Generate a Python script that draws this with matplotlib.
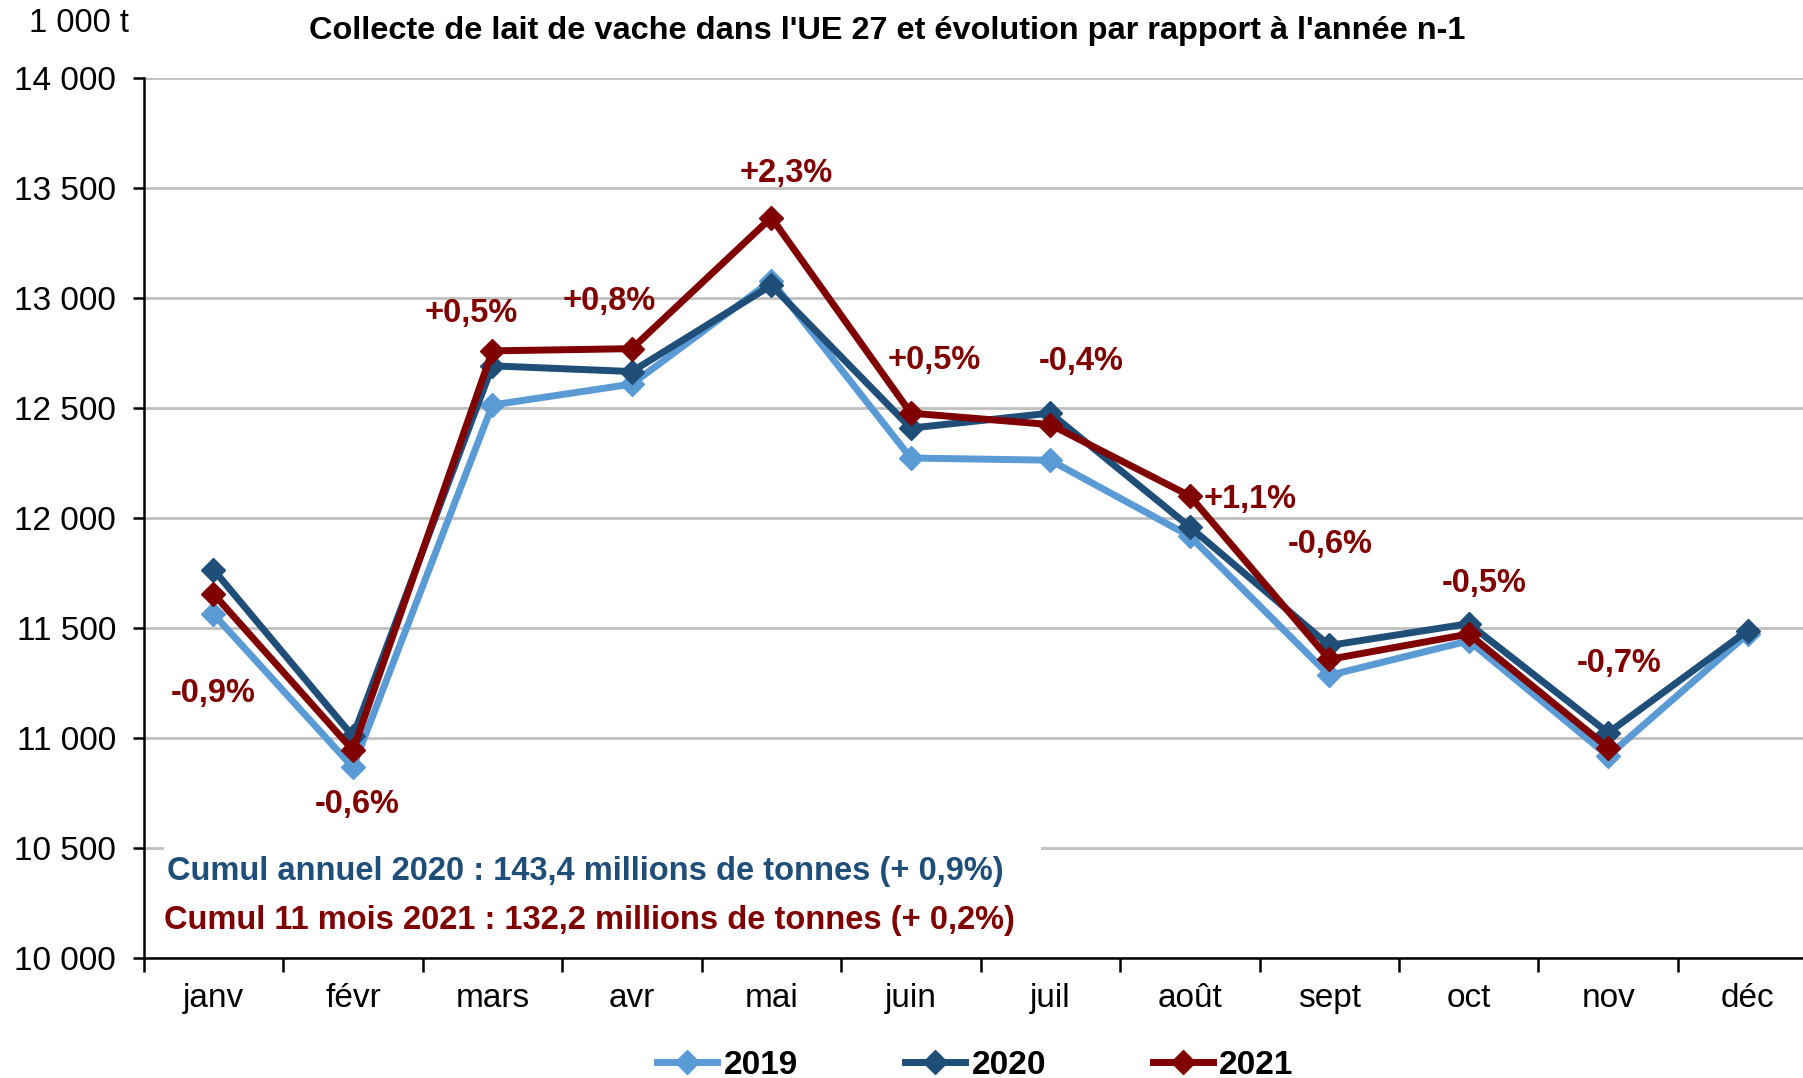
import numpy as np
import matplotlib
matplotlib.use("Agg")
import matplotlib.pyplot as plt
from matplotlib.lines import Line2D

plt.rcParams['font.family'] = ['Liberation Sans', 'DejaVu Sans']

# Data (1 000 t)
months = ['janv', 'févr', 'mars', 'avr', 'mai', 'juin', 'juil', 'août', 'sept', 'oct', 'nov', 'déc']
milk_2019 = [11565, 10868, 12515, 12610, 13080, 12274, 12264, 11919, 11286, 11443, 10920, 11474]
milk_2020 = [11767, 11009, 12693, 12667, 13059, 12410, 12478, 11961, 11422, 11521, 11025, 11490]
milk_2021 = [11657, 10946, 12761, 12771, 13367, 12478, 12426, 12102, 11359, 11474, 10957, np.nan]
evol_labels = ['-0,9%', '-0,6%', '+0,5%', '+0,8%', '+2,3%', '+0,5%', '-0,4%', '+1,1%', '-0,6%', '-0,5%', '-0,7%']
# label anchor positions (month offset, value)
evol_x = [0.0, 1.03, 1.85, 2.84, 4.11, 5.17, 6.22, 7.43, 8.01, 9.11, 10.08]
evol_y = [11202, 10700, 12933, 12986, 13566, 12719, 12714, 12086, 11882, 11704, 11338]

c19 = '#5B9BD5'
c20 = '#1F4E79'
c21 = '#800000'

fig = plt.figure(figsize=(18.03, 10.78), dpi=100)
ax = fig.add_axes([0.0797, 0.111, 1.008 - 0.0797, 0.9274 - 0.111])

x = np.arange(len(months))
for vals, col, lab, z in [(milk_2019, c19, '2019', 3), (milk_2020, c20, '2020', 4), (milk_2021, c21, '2021', 5)]:
    ax.plot(x, vals, color=col, lw=5, marker='D', ms=12.5, label=lab, zorder=z,
            solid_joinstyle='miter')

for t, xx, yy in zip(evol_labels, evol_x, evol_y):
    ax.text(xx, yy, t, color=c21, fontsize=23.5, fontweight='bold', ha='center', va='center', zorder=6)

ax.set_xlim(-0.5, 11.5)
ax.set_ylim(10000, 14000)
ax.set_yticks(np.arange(10000, 14001, 500))
ax.set_yticklabels([f'{v:,}'.replace(',', ' ') for v in range(10000, 14001, 500)], fontsize=24)
ax.yaxis.grid(True, color='#BFBFBF', lw=2)
ax.set_axisbelow(True)

ax.set_xticks(np.arange(-0.5, 12, 1))
ax.set_xticklabels([])
ax.set_xticks(x, minor=True)
ax.set_xticklabels(months, minor=True, fontsize=24)
ax.tick_params(axis='x', which='major', length=10, width=1.8, direction='out')
ax.tick_params(axis='x', which='minor', length=0, pad=18)
ax.tick_params(axis='y', length=8, width=1.8, direction='out', pad=12)

for s in ['top', 'right']:
    ax.spines[s].set_visible(False)
for s in ['left', 'bottom']:
    ax.spines[s].set_linewidth(1.8)
    ax.spines[s].set_color('black')

# cumul box (white background hiding the gridline)
ax.add_patch(plt.Rectangle((0.012, 0.004), 0.524, 0.13, transform=ax.transAxes,
                           facecolor='white', edgecolor='none', zorder=1.5))
ax.text(0.014, 0.099, 'Cumul annuel 2020 : 143,4 millions de tonnes (+ 0,9%)', transform=ax.transAxes,
        color=c20, fontsize=23.5, fontweight='bold', va='center', zorder=7)
ax.text(0.012, 0.043, 'Cumul 11 mois 2021 : 132,2 millions de tonnes (+ 0,2%)', transform=ax.transAxes,
        color=c21, fontsize=23.5, fontweight='bold', va='center', zorder=7)

fig.text(0.016, 0.978, '1 000 t', fontsize=23.5, va='center')
fig.text(0.492, 0.971, "Collecte de lait de vache dans l'UE 27 et évolution par rapport à l'année n-1",
         fontsize=23.4, fontweight='bold', ha='center', va='center')

handles = [Line2D([], [], color=c, lw=5, marker='D', ms=12.5) for c in (c19, c20, c21)]
fig.legend(handles, ['2019', '2020', '2021'], loc='center', bbox_to_anchor=(0.541, 0.012), ncol=3,
           frameon=False, prop={'size': 24, 'weight': 'bold'}, handlelength=1.8, handletextpad=0.2,
           columnspacing=3.2)

fig.savefig('out.png', dpi=100)
